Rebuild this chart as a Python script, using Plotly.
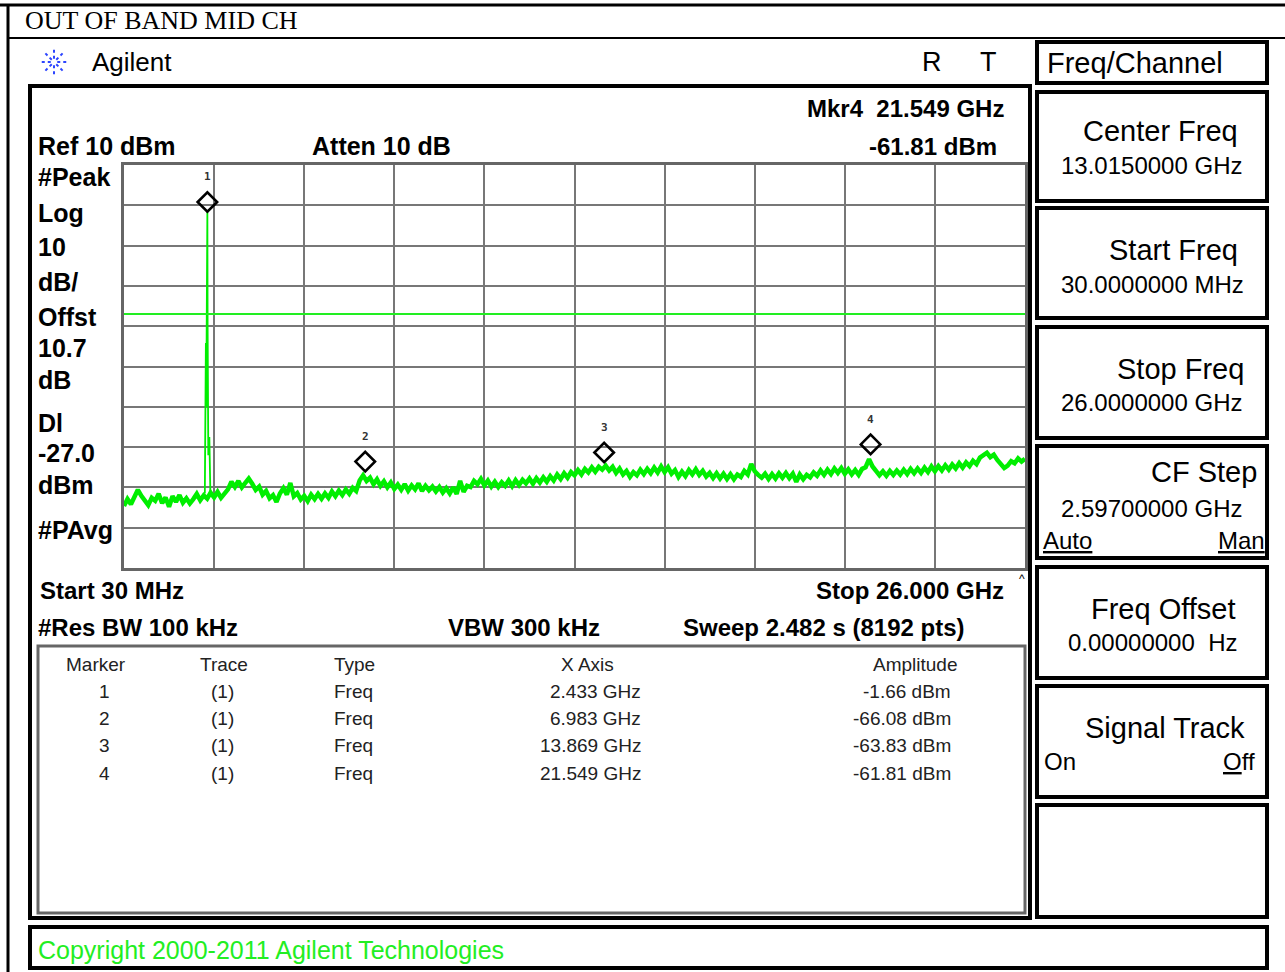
import numpy as np
import plotly.graph_objects as go

# ---------------- data ----------------
start_ghz, stop_ghz = 0.03, 26.0
ref_dbm, db_per_div = 10.0, 10.0
display_line_dbm = -27.0

# noise floor trace, every ~0.1 GHz (dBm)
trace_dbm = [
    -74.6, -72.9, -74.2, -72.4, -70.6, -72.1, -73.5, -74.4, -72.6, -73.3,
    -71.6, -73.9, -72.5, -74.8, -72.2, -73.6, -71.9, -73.8, -72.7, -74.0,
    -72.9, -71.6, -73.2, -72.0, -72.8, -71.3, -72.5, -71.1, -72.6, -71.4,
    -70.5, -68.6, -69.9, -68.4, -70.0, -68.9, -67.8, -69.1, -70.6, -69.8,
    -71.8, -70.9, -72.7, -71.9, -73.6, -71.5, -70.2, -71.8, -68.9, -72.2,
    -71.4, -73.0, -72.1, -73.4, -71.8, -72.9, -71.6, -72.8, -71.5, -72.6,
    -71.0, -72.2, -70.8, -71.9, -70.5, -71.6, -70.1, -70.9, -68.3, -67.0,
    -68.4, -67.6, -69.2, -68.0, -69.6, -68.5, -70.0, -68.8, -70.4, -69.3,
    -70.6, -69.2, -70.8, -69.5, -70.5, -69.0, -70.9, -69.6, -70.7, -69.8,
    -71.0, -69.9, -71.3, -70.2, -71.5, -70.0, -71.6, -68.4, -71.1, -69.6,
    -69.9, -68.4, -69.2, -67.9, -69.5, -68.3, -69.8, -68.6, -69.9, -68.7,
    -69.6, -68.3, -69.7, -68.2, -69.4, -68.1, -69.0, -67.8, -69.1, -67.7,
    -68.8, -67.5, -68.6, -67.2, -68.3, -66.8, -67.9, -66.5, -67.6, -66.2,
    -67.0, -65.7, -66.8, -65.4, -66.3, -65.0, -66.1, -64.9, -65.6, -64.6,
    -65.8, -64.9, -66.4, -65.3, -66.8, -65.9, -67.4, -66.2, -67.0, -65.6,
    -66.7, -65.4, -66.5, -65.1, -66.3, -64.8, -66.2, -65.0, -66.6, -65.7,
    -67.4, -66.1, -67.2, -65.7, -66.8, -65.5, -66.9, -65.9, -67.3, -66.4,
    -67.7, -66.5, -67.8, -66.6, -67.9, -66.7, -68.0, -66.8, -67.4, -65.9,
    -66.8, -64.2, -66.0, -66.9, -67.6, -66.6, -67.9, -66.7, -67.8, -66.5,
    -67.6, -66.4, -67.7, -66.6, -68.6, -66.8, -68.0, -66.9, -67.5, -66.3,
    -67.1, -65.8, -66.9, -65.6, -66.7, -65.3, -66.4, -65.2, -66.6, -65.5,
    -66.8, -65.7, -66.9, -65.4, -65.0, -63.0, -64.8, -65.9, -67.0, -66.0,
    -67.1, -65.9, -66.9, -65.8, -66.8, -65.6, -66.7, -65.4, -66.5, -65.3,
    -66.4, -65.1, -66.2, -64.8, -66.0, -64.7, -65.8, -64.5, -65.6, -64.3,
    -65.3, -64.0, -65.1, -63.8, -64.7, -63.4, -64.2, -62.6, -62.0, -61.4,
    -62.5, -61.9, -63.2, -64.1, -65.2, -64.6, -63.5, -64.0, -62.8, -63.6,
    -62.9,
]
trace_ghz = np.linspace(start_ghz, stop_ghz, len(trace_dbm))

# carrier spike near marker 1
carrier_ghz = [2.36, 2.39, 2.40, 2.41, 2.425, 2.433, 2.44, 2.46, 2.49, 2.50, 2.52]
carrier_dbm = [-71.5, -34.2, -50.0, -37.0, -20.0, -1.66, -30.0, -62.0, -57.5, -70.0, -71.8]

# markers
mk_num = ["1", "2", "3", "4"]
mk_ghz = [2.433, 6.983, 13.869, 21.549]
mk_dbm = [-1.66, -66.08, -63.83, -61.81]

left_labels = ["#Peak", "Log", "10", "dB/", "Offst", "10.7", "dB", "Dl", "-27.0", "dBm", "#PAvg"]

# ---------------- geometry helpers (pixel -> paper) ----------------
W, H = 1285, 972
PL, PR, PT, PB = 124, 1025, 165, 568


def X(px):
    return (px - PL) / (PR - PL)


def Y(py):
    return (PB - py) / (PB - PT)


fig = go.Figure()

GREEN = "#00ee00"
fig.add_trace(go.Scatter(x=trace_ghz, y=trace_dbm, mode="lines",
                         line=dict(color=GREEN, width=4.5), hoverinfo="skip"))
fig.add_trace(go.Scatter(x=carrier_ghz, y=carrier_dbm, mode="lines",
                         line=dict(color=GREEN, width=1.8), hoverinfo="skip"))

# marker diamonds drawn ~10 px above the marker point
px_per_db = (PB - PT) / (db_per_div * 10)
diamond_off = 10 / px_per_db
fig.add_trace(go.Scatter(
    x=mk_ghz, y=[a + diamond_off for a in mk_dbm], mode="markers",
    marker=dict(symbol="diamond-open", size=15, color="black", line=dict(width=2.6, color="black")),
    hoverinfo="skip"))
for n, f, a in zip(mk_num, mk_ghz, mk_dbm):
    fig.add_annotation(x=f, y=a, xref="x", yref="y", text="<b>" + n + "</b>", showarrow=False,
                       yshift=35, font=dict(size=11, color="#333", family="DejaVu Sans Mono"))

fig.add_shape(type="line", xref="x", yref="y", x0=start_ghz, x1=stop_ghz,
              y0=display_line_dbm, y1=display_line_dbm, line=dict(color="#22ee22", width=2))

div = (stop_ghz - start_ghz) / 10
fig.update_xaxes(range=[start_ghz, stop_ghz], tick0=start_ghz, dtick=div, showticklabels=False,
                 ticks="", showgrid=True, gridcolor="#777777", gridwidth=2, zeroline=False,
                 showline=True, mirror=True, linecolor="#666666", linewidth=3)
fig.update_yaxes(range=[ref_dbm - 10 * db_per_div, ref_dbm], tick0=ref_dbm, dtick=db_per_div,
                 showticklabels=False, ticks="", showgrid=True, gridcolor="#777777", gridwidth=2,
                 zeroline=False, showline=True, mirror=True, linecolor="#666666", linewidth=3)


def rect(x0, y0, x1, y1, w=4, color="black"):
    fig.add_shape(type="rect", xref="paper", yref="paper", x0=X(x0), x1=X(x1), y0=Y(y0), y1=Y(y1),
                  line=dict(color=color, width=w), layer="above")


def hline(x0, x1, y, w=2, color="black"):
    fig.add_shape(type="line", xref="paper", yref="paper", x0=X(x0), x1=X(x1), y0=Y(y), y1=Y(y),
                  line=dict(color=color, width=w))


def vline(x, y0, y1, w=2, color="black"):
    fig.add_shape(type="line", xref="paper", yref="paper", x0=X(x), x1=X(x), y0=Y(y0), y1=Y(y1),
                  line=dict(color=color, width=w))


SANS = "Liberation Sans, Arial, sans-serif"


def txt(s, x, y, size, anchor="left", bold=False, color="black", family=SANS):
    if bold:
        s = "<b>" + s + "</b>"
    fig.add_annotation(x=X(x), y=Y(y), xref="paper", yref="paper", text=s, showarrow=False,
                       xanchor=anchor, yanchor="middle", font=dict(size=size, color=color, family=family),
                       borderpad=0)


# page frame and title row
hline(0, W, 5, 3)
hline(8, W, 38, 2)
vline(8, 4, H, 3)
txt("OUT OF BAND MID CH", 24, 21, 26, family="Liberation Serif, Times New Roman, serif")

# Agilent logo (blue spark) and name
cx, cy = 54, 62
for dx, dy in [(13, 0), (-13, 0), (0, 13), (0, -13), (9, 9), (-9, 9), (9, -9), (-9, -9)]:
    fig.add_shape(type="line", xref="paper", yref="paper", x0=X(cx + dx * 0.25), y0=Y(cy + dy * 0.25),
                  x1=X(cx + dx), y1=Y(cy + dy), line=dict(color="#2d45ff", width=2, dash="dot"))
txt("Agilent", 91, 62, 26)
txt("R", 932, 62, 27, anchor="center")
txt("T", 988, 62, 27, anchor="center")

# main screen frame
rect(30, 86, 1030, 918, 4)

# header texts
txt(f"Mkr{mk_num[-1]}  {mk_ghz[-1]:.3f} GHz", 1005, 108, 24, anchor="right", bold=True)
txt(f"{mk_dbm[-1]:.2f} dBm", 998, 146, 24, anchor="right", bold=True)
txt(f"Ref {ref_dbm:.0f} dBm", 37, 146, 25, bold=True)
txt("Atten 10 dB", 311, 146, 25, bold=True)
for s, y in zip(left_labels, [177, 213, 247, 282, 317, 348, 380, 423, 453, 485, 530]):
    txt(s, 37, y, 25, bold=True)

txt("Start 30 MHz", 39, 590, 24, bold=True)
txt("Stop 26.000 GHz", 1005, 590, 24, anchor="right", bold=True)
txt("^", 1022, 579, 12, anchor="center")
txt("#Res BW 100 kHz", 37, 627, 24, bold=True)
txt("VBW 300 kHz", 447, 627, 24, bold=True)
txt("Sweep 2.482 s (8192 pts)", 682, 627, 24, bold=True)

# marker table
rect(38, 646, 1025, 913, 3, "#666")
TCOL = "#222"
txt("Marker", 96, 664, 19, anchor="center", color=TCOL)
txt("Trace", 224, 664, 19, anchor="center", color=TCOL)
txt("Type", 333, 664, 19, color=TCOL)
txt("X Axis", 587, 664, 19, anchor="center", color=TCOL)
txt("Amplitude", 915, 664, 19, anchor="center", color=TCOL)
for i, (n, f, a) in enumerate(zip(mk_num, mk_ghz, mk_dbm)):
    y = 691 + i * 27.4
    txt(n, 104, y, 19, anchor="center", color=TCOL)
    txt("(1)", 222, y, 19, anchor="center", color=TCOL)
    txt("Freq", 333, y, 19, color=TCOL)
    txt(f"{f:.3f} GHz", 642, y, 19, anchor="right", color=TCOL)
    txt(f"{a:.2f} dBm", 952, y, 19, anchor="right", color=TCOL)

# softkey panel
for y0, y1 in [(42, 83), (92, 201), (208, 318), (327, 438), (446, 558), (567, 678), (686, 797), (805, 917)]:
    rect(1037, y0, 1267, y1, 4)
txt("Freq/Channel", 1046, 63, 29)
txt("Center Freq", 1239, 131, 29, anchor="right")
txt("13.0150000 GHz", 1243, 165, 24, anchor="right")
txt("Start Freq", 1239, 250, 29, anchor="right")
txt("30.0000000 MHz", 1245, 284, 24, anchor="right")
txt("Stop Freq", 1245, 369, 29, anchor="right")
txt("26.0000000 GHz", 1243, 402, 24, anchor="right")
txt("CF Step", 1258, 472, 29, anchor="right")
txt("2.59700000 GHz", 1243, 508, 24, anchor="right")
txt("<u>Auto</u>", 1042, 540, 24)
txt("<u>Man</u>", 1266, 540, 24, anchor="right")
txt("Freq Offset", 1237, 609, 29, anchor="right")
txt("0.00000000  Hz", 1238, 642, 24, anchor="right")
txt("Signal Track", 1246, 728, 29, anchor="right")
txt("On", 1043, 761, 24)
txt("<u>O</u>ff", 1256, 761, 24, anchor="right")

# copyright bar
rect(30, 927, 1267, 968, 4)
txt("Copyright 2000-2011 Agilent Technologies", 37, 950, 25, color="#22ee22")

fig.update_layout(
    width=W, height=H, showlegend=False,
    margin=dict(l=PL, r=W - PR, t=PT, b=H - PB, pad=0),
    paper_bgcolor="white", plot_bgcolor="white",
)

fig.write_html("out.html", config={"displayModeBar": False},
               post_script="document.body.style.margin='0';document.body.style.overflow='hidden';")
